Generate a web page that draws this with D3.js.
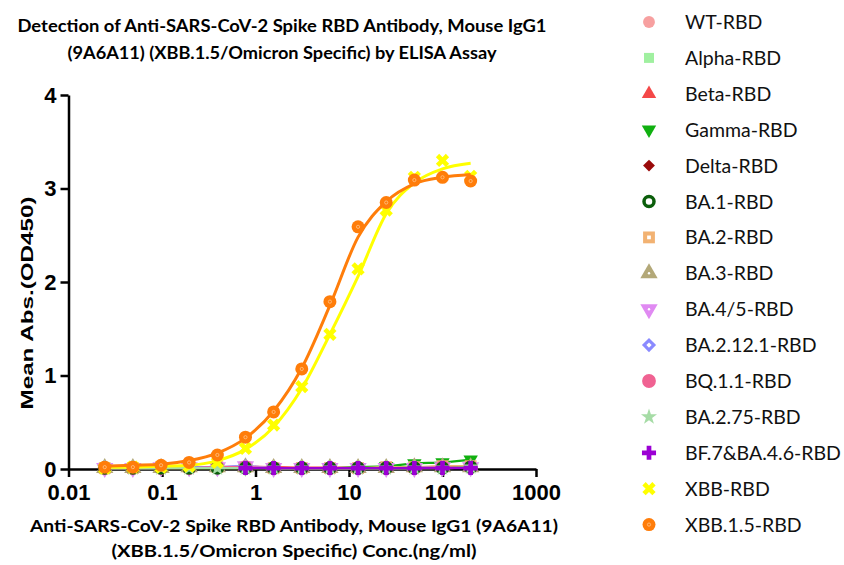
<!DOCTYPE html>
<html>
<head>
<meta charset="utf-8">
<script src="https://cdn.jsdelivr.net/npm/d3@7"></script>
<style>
  body { margin: 0; background: #fff; }
  svg { display: block; }
</style>
</head>
<body>
<svg id="chart"></svg>
<script>
// antibody concentration (ng/ml), 2-fold dilution series
const concentrations = [0.0244, 0.0488, 0.0977, 0.195, 0.391, 0.781, 1.5625, 3.125, 6.25, 12.5, 25, 50, 100, 200];

// Mean Abs (OD450) per RBD variant
const wtRbd = [0.02, 0.02, 0.02, 0.02, 0.02, 0.03, 0.02, 0.02, 0.02, 0.02, 0.02, 0.02, 0.02, 0.03];
const alphaRbd = [0.01, 0.01, 0.01, 0.02, 0.02, 0.02, 0.01, 0.01, 0.01, 0.01, 0.02, 0.02, 0.02, 0.02];
const betaRbd = [0.01, 0.01, 0.02, 0.02, 0.02, 0.02, 0.02, 0.01, 0.01, 0.01, 0.01, 0.02, 0.02, 0.02];
const gammaRbd = [0.01, 0.01, 0.01, 0.01, 0.01, 0.01, 0.01, 0.01, 0.01, 0.02, 0.03, 0.06, 0.07, 0.1];
const deltaRbd = [0.01, 0.01, 0.01, 0.01, 0.01, 0.01, 0.01, 0.01, 0.01, 0.01, 0.01, 0.01, 0.01, 0.02];
const ba1Rbd = [0.01, 0.01, 0.01, 0.01, 0.01, 0.01, 0.01, 0.01, 0.01, 0.01, 0.01, 0.01, 0.01, 0.02];
const ba2Rbd = [0.01, 0.01, 0.02, 0.02, 0.02, 0.02, 0.01, 0.01, 0.01, 0.01, 0.02, 0.02, 0.03, 0.03];
const ba3Rbd = [0.01, 0.01, 0.01, 0.02, 0.02, 0.02, 0.01, 0.01, 0.01, 0.01, 0.01, 0.02, 0.02, 0.02];
const ba45Rbd = [0.01, 0.01, 0.02, 0.02, 0.02, 0.03, 0.01, 0.01, 0.01, 0.01, 0.01, 0.01, 0.02, 0.02];
const ba2121Rbd = [0.02, 0.01, 0.01, 0.02, 0.02, 0.03, 0.01, 0.01, 0.01, 0.01, 0.01, 0.01, 0.02, 0.02];
const bq11Rbd = [0.01, 0.01, 0.01, 0.01, 0.02, 0.02, 0.01, 0.01, 0.01, 0.01, 0.01, 0.01, 0.02, 0.02];
const ba275Rbd = [0.01, 0.01, 0.01, 0.01, 0.01, 0.01, 0.01, 0.01, 0.01, 0.01, 0.01, 0.01, 0.01, 0.02];
const bf7Rbd = [null, null, null, null, null, 0.01, 0.01, 0.01, 0.01, 0.01, 0.01, 0.01, 0.01, 0.01];
const xbbRbd = [0.01, 0.02, 0.02, 0.03, 0.07, 0.22, 0.47, 0.88, 1.44, 2.14, 2.77, 3.12, 3.3, 3.13];
const xbb15Rbd = [0.02, 0.02, 0.04, 0.07, 0.15, 0.34, 0.61, 1.07, 1.79, 2.59, 2.85, 3.09, 3.12, 3.08];

// fitted curves
const xbbFit = [0.02, 0.02, 0.03, 0.04, 0.09, 0.21, 0.45, 0.86, 1.44, 2.06, 2.73, 3.06, 3.21, 3.27];
const xbb15Fit = [0.03, 0.04, 0.05, 0.09, 0.17, 0.33, 0.62, 1.08, 1.75, 2.48, 2.86, 3.05, 3.12, 3.15];

const seriesNames = ["WT-RBD", "Alpha-RBD", "Beta-RBD", "Gamma-RBD", "Delta-RBD", "BA.1-RBD", "BA.2-RBD",
  "BA.3-RBD", "BA.4/5-RBD", "BA.2.12.1-RBD", "BQ.1.1-RBD", "BA.2.75-RBD", "BF.7&BA.4.6-RBD", "XBB-RBD", "XBB.1.5-RBD"];
const seriesValues = [wtRbd, alphaRbd, betaRbd, gammaRbd, deltaRbd, ba1Rbd, ba2Rbd, ba3Rbd, ba45Rbd,
  ba2121Rbd, bq11Rbd, ba275Rbd, bf7Rbd, xbbRbd, xbb15Rbd];

const xTicks = [0.01, 0.1, 1, 10, 100, 1000];
const yTicks = [0, 1, 2, 3, 4];

const titleLines = ["Detection of Anti-SARS-CoV-2 Spike RBD Antibody, Mouse IgG1",
  "(9A6A11) (XBB.1.5/Omicron Specific) by ELISA Assay"];
const xTitleLines = ["Anti-SARS-CoV-2 Spike RBD Antibody, Mouse IgG1 (9A6A11)",
  "(XBB.1.5/Omicron Specific) Conc.(ng/ml)"];

// marker styles, same order as seriesNames
const colors = ["#f7a0a0", "#a0f0a0", "#f44848", "#10b010", "#9a0a0a", "#0b5e0b", "#f2b272", "#b3a878",
  "#e08af2", "#8a8aff", "#f06292", "#a6dca6", "#9b00d4", "#ffff00", "#ff7d0a"];

const width = 844;
const height = 565;

const svg = d3.select("#chart").attr("width", width).attr("height", height);

const x = d3.scaleLog().domain([0.01, 1000]).range([68.5, 536]);
const y = d3.scaleLinear().domain([0, 4]).range([469, 95]);

// titles
svg.append("g")
  .selectAll("text")
  .data(titleLines)
  .join("text")
  .attr("x", 282)
  .attr("y", (d, i) => 32 + i * 27)
  .attr("text-anchor", "middle")
  .attr("font-family", "Lato, 'Open Sans', sans-serif")
  .attr("font-weight", "bold")
  .attr("font-size", 16.5)
  .attr("textLength", (d, i) => (i === 0 ? 529 : 429))
  .attr("lengthAdjust", "spacingAndGlyphs")
  .text((d) => d);

svg.append("g")
  .selectAll("text")
  .data(xTitleLines)
  .join("text")
  .attr("x", 294)
  .attr("y", (d, i) => 532 + i * 25)
  .attr("text-anchor", "middle")
  .attr("font-family", "Lato, 'Open Sans', sans-serif")
  .attr("font-weight", "bold")
  .attr("font-size", 17)
  .attr("textLength", (d, i) => (i === 0 ? 528 : 365))
  .attr("lengthAdjust", "spacingAndGlyphs")
  .text((d) => d);

svg.append("text")
  .attr("transform", "translate(33, 303) rotate(-90)")
  .attr("text-anchor", "middle")
  .attr("font-family", "'Liberation Sans', Arial, sans-serif")
  .attr("font-weight", "bold")
  .attr("font-size", 17)
  .attr("textLength", 213)
  .attr("lengthAdjust", "spacingAndGlyphs")
  .text("Mean Abs.(OD450)");

// axes
const xAxis = d3.axisBottom(x).tickValues(xTicks).tickFormat((d) => String(d)).tickSize(8).tickSizeOuter(0);
const gx = svg.append("g").attr("transform", "translate(0, 469)").call(xAxis);

const yAxis = d3.axisLeft(y).tickValues(yTicks).tickFormat(d3.format("d")).tickSize(8).tickSizeOuter(0);
const gy = svg.append("g").attr("transform", "translate(68.5, 0)").call(yAxis);

[gx, gy].forEach((g) => {
  g.select(".domain").attr("stroke", "#000").attr("stroke-width", 2.5);
  g.selectAll(".tick line").attr("stroke", "#000").attr("stroke-width", 2.5);
  g.selectAll(".tick text")
    .attr("fill", "#000")
    .attr("font-family", "'Liberation Sans', Arial, sans-serif")
    .attr("font-weight", "bold")
    .attr("font-size", 22);
});
gx.selectAll(".tick text").attr("dy", "0.9em");
gy.selectAll(".tick text").attr("dx", "-1px");

// marker drawing
const sym = (type, size) => d3.symbol().type(type).size(size)();

function drawMarker(g, i, cx, cy) {
  const c = colors[i];
  const m = g.append("g").attr("transform", `translate(${cx},${cy})`);
  if (i === 0) m.append("path").attr("d", sym(d3.symbolCircle, 110)).attr("fill", c);
  if (i === 1) m.append("path").attr("d", sym(d3.symbolSquare, 100)).attr("fill", c);
  if (i === 2) m.append("path").attr("d", sym(d3.symbolTriangle, 90)).attr("fill", c);
  if (i === 3) m.append("path").attr("d", sym(d3.symbolTriangle, 90)).attr("transform", "rotate(180)").attr("fill", c);
  if (i === 4) m.append("path").attr("d", sym(d3.symbolSquare, 70)).attr("transform", "rotate(45)").attr("fill", c);
  if (i === 5) m.append("circle").attr("r", 5).attr("fill", "#fff").attr("stroke", c).attr("stroke-width", 3.5);
  if (i === 6) {
    m.append("path").attr("d", sym(d3.symbolSquare, 140)).attr("fill", c);
    m.append("path").attr("d", sym(d3.symbolSquare, 14)).attr("fill", "#fff");
  }
  if (i === 7) {
    m.append("path").attr("d", sym(d3.symbolTriangle, 130)).attr("fill", c);
    m.append("circle").attr("r", 1.2).attr("fill", "#fff");
  }
  if (i === 8) {
    m.append("path").attr("d", sym(d3.symbolTriangle, 130)).attr("transform", "rotate(180)").attr("fill", c);
    m.append("circle").attr("r", 1.2).attr("fill", "#fff");
  }
  if (i === 9) {
    m.append("path").attr("d", sym(d3.symbolSquare, 100)).attr("transform", "rotate(45)").attr("fill", c);
    m.append("path").attr("d", sym(d3.symbolSquare, 14)).attr("transform", "rotate(45)").attr("fill", "#fff");
  }
  if (i === 10) m.append("path").attr("d", sym(d3.symbolCircle, 150)).attr("fill", c);
  if (i === 11) m.append("path").attr("d", sym(d3.symbolStar, 80)).attr("fill", c);
  if (i === 12) m.append("path").attr("d", sym(d3.symbolCross, 110)).attr("fill", c);
  if (i === 13) m.append("path").attr("d", sym(d3.symbolCross, 110)).attr("transform", "rotate(45)").attr("fill", c);
  if (i === 14) {
    m.append("circle").attr("r", 6.5).attr("fill", c);
    m.append("circle").attr("r", 1.6).attr("fill", "none").attr("stroke", "#ffc48a").attr("stroke-width", 0.8);
  }
}

// series: lines then markers
const plot = svg.append("g");
const line = d3.line()
  .defined((d) => d[1] !== null)
  .x((d) => x(d[0]))
  .y((d) => y(d[1]))
  .curve(d3.curveMonotoneX);

const drawOrder = [0, 1, 2, 3, 4, 6, 7, 8, 9, 10, 5, 11, 12, 13, 14];
drawOrder.forEach((i) => {
  const g = plot.append("g");
  let fit = seriesValues[i];
  if (i === 13) fit = xbbFit;
  if (i === 14) fit = xbb15Fit;
  g.append("path")
    .attr("d", line(concentrations.map((cv, k) => [cv, fit[k]])))
    .attr("fill", "none")
    .attr("stroke", colors[i])
    .attr("stroke-width", i >= 13 ? 3 : 2.2);
  concentrations.forEach((cv, k) => {
    const v = seriesValues[i][k];
    if (v !== null) drawMarker(g, i, x(cv), y(v));
  });
});

// legend
const legend = svg.append("g");
seriesNames.forEach((name, i) => {
  const ly = 22 + i * 35.9;
  drawMarker(legend, i, 649, ly);
  legend.append("text")
    .attr("x", 685)
    .attr("y", ly + 7)
    .attr("font-family", "Lato, 'Open Sans', sans-serif")
    .attr("font-size", 19.5)
    .attr("fill", "#111")
    .text(name);
});
</script>
</body>
</html>
